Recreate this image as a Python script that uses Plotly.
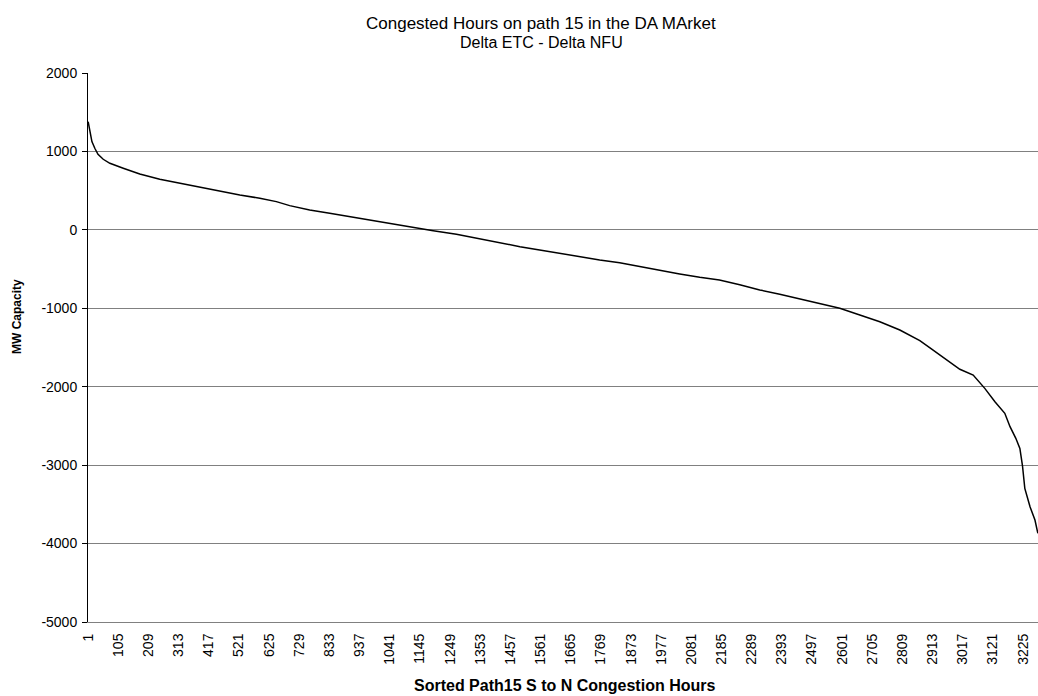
import plotly.graph_objects as go

# Sorted hour index (category position) and MW capacity
hours = [1, 7, 14, 24, 35, 53, 76, 122, 179, 248, 317, 386, 455, 524, 593, 650, 696, 765, 834, 903,
         972, 1041, 1110, 1191, 1271, 1340, 1409, 1490, 1558, 1627, 1696, 1765, 1834, 1903, 1972, 2041,
         2110, 2178, 2248, 2317, 2386, 2455, 2524, 2593, 2662, 2731, 2800, 2869, 2910, 2961, 3007, 3053,
         3093, 3128, 3162, 3180, 3200, 3214, 3223, 3231, 3249, 3266, 3276]
mw = [1380, 1253, 1125, 1040, 964, 900, 849, 786, 713, 645, 594, 538, 496, 445, 403, 360, 309, 254,
      212, 168, 126, 84, 41, -10, -56, -107, -150, -214, -256, -299, -342, -384, -418, -469, -511, -562,
      -605, -639, -700, -766, -821, -880, -944, -1000, -1085, -1171, -1277, -1413, -1520, -1657, -1778,
      -1851, -2021, -2191, -2339, -2510, -2658, -2786, -3008, -3296, -3531, -3700, -3870]

n_hours = 3276
x_tick_vals = list(range(1, 3226, 104))
x_tick_text = [str(v) for v in x_tick_vals]
y_tick_vals = [2000, 1000, 0, -1000, -2000, -3000, -4000, -5000]

title_lines = ["Congested Hours on path 15 in the DA MArket", "Delta ETC - Delta NFU"]
x_title = "Sorted Path15 S to N Congestion Hours"
y_title = "MW Capacity"

FONT = "Liberation Sans, Arial, sans-serif"

fig = go.Figure()
fig.add_trace(go.Scatter(x=hours, y=mw, mode="lines",
                         line=dict(color="black", width=1.5), showlegend=False))

W, H = 1038, 696
L, R, T, B = 88, 0, 73, 74
PW, PH = W - L - R, H - T - B


def px_x(x):
    return (x - L) / PW


def px_y(y):
    return 1 - (y - T) / PH


fig.update_layout(
    width=W, height=H,
    margin=dict(l=L, r=R, t=T, b=B, autoexpand=False),
    paper_bgcolor="white", plot_bgcolor="white",
    font=dict(family=FONT, color="black", size=14),
)
fig.update_xaxes(
    range=[0.5, n_hours + 0.5], automargin=False,
    tickmode="array", tickvals=x_tick_vals, ticktext=x_tick_text,
    tickangle=-90, tickfont=dict(size=14),
    showgrid=False, zeroline=False,
    showline=True, linecolor="#808080", linewidth=1,
    ticks="", ticklabelstandoff=5,
)
fig.update_yaxes(
    range=[-5000, 2000], automargin=False,
    tickmode="array", tickvals=y_tick_vals, ticktext=[str(v) for v in y_tick_vals],
    tickfont=dict(size=14),
    showgrid=True, gridcolor="#808080", gridwidth=1,
    zeroline=False,
    showline=True, linecolor="black", linewidth=1,
    ticks="outside", ticklen=5, tickcolor="black", ticklabelstandoff=2,
)
# Title lines
fig.add_annotation(text=title_lines[0], xref="paper", yref="paper",
                   x=px_x(541), y=px_y(23), xanchor="center", yanchor="middle",
                   showarrow=False, font=dict(family=FONT, size=17, color="black"))
fig.add_annotation(text=title_lines[1], xref="paper", yref="paper",
                   x=px_x(541), y=px_y(43), xanchor="center", yanchor="middle",
                   showarrow=False, font=dict(family=FONT, size=16, color="black"))
# Axis titles
fig.add_annotation(text="<b>" + x_title + "</b>", xref="paper", yref="paper",
                   x=px_x(564), y=px_y(685),
                   xanchor="center", yanchor="middle", showarrow=False,
                   font=dict(family=FONT, size=16, color="black"))
fig.add_annotation(text="<b>" + y_title + "</b>", xref="paper", yref="paper",
                   x=px_x(17), y=px_y(317),
                   xanchor="center", yanchor="middle", textangle=-90, showarrow=False,
                   font=dict(family=FONT, size=12, color="black"))

fig.write_html("out.html", config={"displayModeBar": False},
               post_script="document.body.style.margin='0';document.body.style.padding='0';")
